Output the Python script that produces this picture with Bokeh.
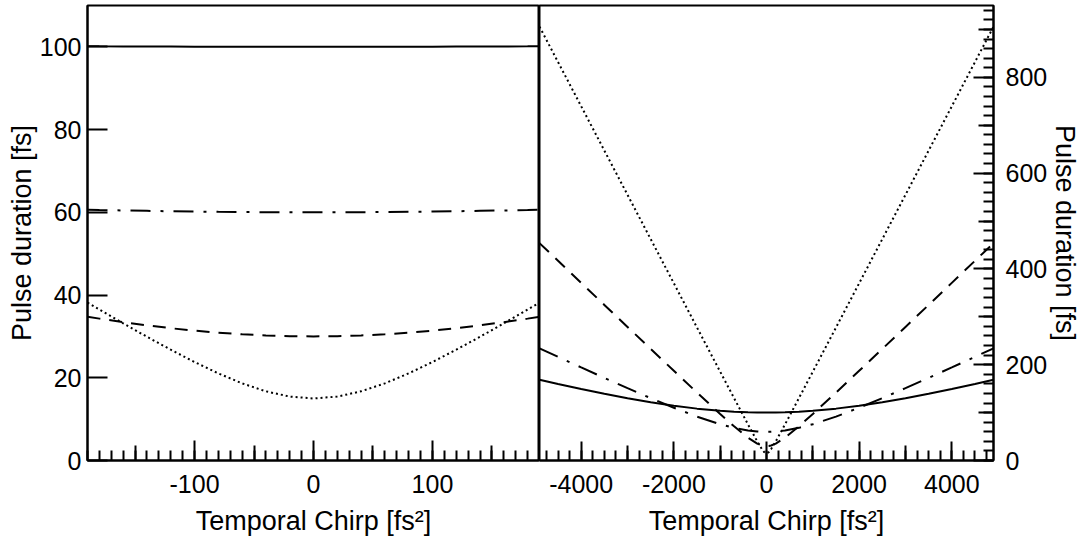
from bokeh.plotting import figure
from bokeh.layouts import row
from bokeh.models import LinearAxis, FixedTicker
from bokeh.embed import file_html
from bokeh.resources import INLINE

# Pulse duration versus temporal chirp for four transform-limited pulses
# (100, 60, 30 and 15 fs), shown over a small and a large chirp window.

# --- small chirp window (fs^2) ---
chirp_small = [-190, -180, -160, -140, -120, -100, -80, -60, -40, -20, 0,
               20, 40, 60, 80, 100, 120, 140, 160, 180, 190]
dur100_small = [100.14, 100.12, 100.10, 100.08, 100.06, 100.04, 100.02, 100.01, 100.01, 100.00, 100.00,
                100.00, 100.01, 100.01, 100.02, 100.04, 100.06, 100.08, 100.10, 100.12, 100.14]
dur60_small = [60.64, 60.57, 60.45, 60.35, 60.26, 60.18, 60.11, 60.06, 60.03, 60.01, 60.00,
               60.01, 60.03, 60.06, 60.11, 60.18, 60.26, 60.35, 60.45, 60.57, 60.64]
dur30_small = [34.76, 34.30, 33.45, 32.67, 31.98, 31.39, 30.90, 30.51, 30.23, 30.06, 30.00,
               30.06, 30.23, 30.51, 30.90, 31.39, 31.98, 32.67, 33.45, 34.30, 34.76]
dur15_small = [38.19, 36.50, 33.16, 29.91, 26.78, 23.81, 21.06, 18.65, 16.72, 15.45, 15.00,
               15.45, 16.72, 18.65, 21.06, 23.81, 26.78, 29.91, 33.16, 36.50, 38.19]

# --- large chirp window (fs^2) ---
chirp_large = [-4900, -4500, -4000, -3500, -3000, -2500, -2000, -1500, -1000, -700, -400, -200, -100, -50, 0,
               50, 100, 200, 400, 700, 1000, 1500, 2000, 2500, 3000, 3500, 4000, 4500, 4900]
dur100_large = [168.69, 159.90, 149.33, 139.34, 130.07, 121.67, 114.35, 108.30, 103.77, 101.87, 100.61, 100.15, 100.04, 100.01, 100.00,
                100.01, 100.04, 100.15, 100.61, 101.87, 103.77, 108.30, 114.35, 121.67, 130.07, 139.34, 149.33, 159.90, 168.69]
dur60_large = [234.24, 216.43, 194.34, 172.51, 151.06, 130.18, 110.19, 91.68, 75.73, 68.16, 62.78, 60.71, 60.18, 60.04, 60.00,
               60.04, 60.18, 60.71, 62.78, 68.16, 75.73, 91.68, 110.19, 130.18, 151.06, 172.51, 194.34, 216.43, 234.24]
dur30_large = [453.86, 416.97, 370.90, 324.86, 278.88, 232.99, 187.26, 141.84, 97.17, 71.31, 47.61, 35.24, 31.39, 30.35, 30.00,
               30.35, 31.39, 35.24, 47.61, 71.31, 97.17, 141.84, 187.26, 232.99, 278.88, 324.86, 370.90, 416.97, 453.86]
dur15_large = [905.87, 831.94, 739.53, 647.13, 554.74, 462.36, 370.00, 277.67, 185.45, 130.26, 75.44, 39.90, 23.81, 17.62, 15.00,
               17.62, 23.81, 39.90, 75.44, 130.26, 185.45, 277.67, 370.00, 462.36, 554.74, 647.13, 739.53, 831.94, 905.87]

# tick labels
small_x_ticks = [-100, 0, 100]
small_x_labels = ["-100", "0", "100"]
large_x_ticks = [-4000, -2000, 0, 2000, 4000]
large_x_labels = ["-4000", "-2000", "0", "2000", "4000"]
small_y_ticks = [0, 20, 40, 60, 80, 100]
small_y_labels = ["0", "20", "40", "60", "80", "100"]
large_y_ticks = [0, 200, 400, 600, 800]
large_y_labels = ["0", "200", "400", "600", "800"]

x_title = "Temporal Chirp [fs²]"
y_title = "Pulse duration [fs]"

FONT = "Liberation Sans"
TICK_SIZE = "25px"
TITLE_SIZE = "27px"
LW = 2

styles = [
    ("solid", None),
    ("dashdot", "20 10 3 10"),
    ("dashed", "13 9"),
    ("dotted", "2 3"),
]


def style_axis(ax, ticks, labels, minor, tick_len, minor_len, standoff, title, title_standoff):
    ax.ticker = FixedTicker(ticks=ticks, minor_ticks=minor)
    ax.major_label_overrides = {t: l for t, l in zip(ticks, labels)}
    ax.major_tick_in = tick_len
    ax.major_tick_out = 0
    ax.minor_tick_in = minor_len
    ax.minor_tick_out = 0
    ax.major_tick_line_width = LW
    ax.minor_tick_line_width = LW
    ax.major_tick_line_color = "black"
    ax.minor_tick_line_color = "black"
    ax.axis_line_width = LW
    ax.axis_line_color = "black"
    ax.major_label_text_font = FONT
    ax.major_label_text_font_size = TICK_SIZE
    ax.major_label_text_color = "black"
    ax.major_label_standoff = standoff
    ax.axis_label = title
    ax.axis_label_text_font = FONT
    ax.axis_label_text_font_size = TITLE_SIZE
    ax.axis_label_text_font_style = "normal"
    ax.axis_label_text_color = "black"
    ax.axis_label_standoff = title_standoff


def tick_only_axis(ticks, length, location):
    # unlabeled axis contributing intermediate-length ticks (drawn as minor ticks, so no labels)
    ax = LinearAxis(fixed_location=location)
    ax.ticker = FixedTicker(ticks=[], minor_ticks=ticks)
    ax.major_tick_line_color = None
    ax.minor_tick_in = length
    ax.minor_tick_out = 0
    ax.minor_tick_line_width = LW
    ax.minor_tick_line_color = "black"
    ax.axis_line_color = None
    ax.major_label_standoff = 0
    ax.axis_label = None
    return ax


def base_style(p):
    p.grid.visible = False
    p.outline_line_color = "black"
    p.outline_line_width = LW
    p.background_fill_color = "white"
    p.border_fill_color = "white"


# ---------- left panel ----------
p1 = figure(frame_width=452, frame_height=455, x_range=(-190, 190), y_range=(0, 110),
            min_border_left=87, min_border_right=0, min_border_top=5, min_border_bottom=85,
            output_backend="svg", toolbar_location=None)
base_style(p1)
for ys, (kind, dash) in zip([dur100_small, dur60_small, dur30_small, dur15_small], styles):
    kw = dict(line_color="black", line_width=LW)
    if dash:
        kw["line_dash"] = dash
    p1.line(chirp_small, ys, **kw)

style_axis(p1.xaxis[0], small_x_ticks, small_x_labels, list(range(-190, 191, 10)),
           20, 10, 14, x_title, 10)
style_axis(p1.yaxis[0], small_y_ticks, small_y_labels, [], 20, 0, 6, y_title, 0)
p1.yaxis[0].minor_tick_line_color = None
p1.add_layout(tick_only_axis([-150, -50, 50, 150], 15, 0), "below")

# ---------- right panel ----------
p2 = figure(frame_width=454, frame_height=455, x_range=(-4900, 4900), y_range=(0, 950),
            y_axis_location="right",
            min_border_left=0, min_border_right=89, min_border_top=5, min_border_bottom=85,
            output_backend="svg", toolbar_location=None)
base_style(p2)
for ys, (kind, dash) in zip([dur100_large, dur60_large, dur30_large, dur15_large], styles):
    kw = dict(line_color="black", line_width=LW)
    if dash:
        kw["line_dash"] = dash
    p2.line(chirp_large, ys, **kw)

style_axis(p2.xaxis[0], large_x_ticks, large_x_labels, list(range(-4750, 4751, 250)),
           19, 10, 14, x_title, 10)
style_axis(p2.yaxis[0], large_y_ticks, large_y_labels, list(range(0, 951, 20)),
           20, 10, 12, y_title, 0)
p2.add_layout(tick_only_axis([-3000, -1000, 1000, 3000], 15, 0), "below")
p2.add_layout(tick_only_axis([100, 300, 500, 700, 900], 15, 4900), "right")

layout = row(p1, p2, spacing=0)

open("out.html", "w").write(file_html(layout, INLINE))
